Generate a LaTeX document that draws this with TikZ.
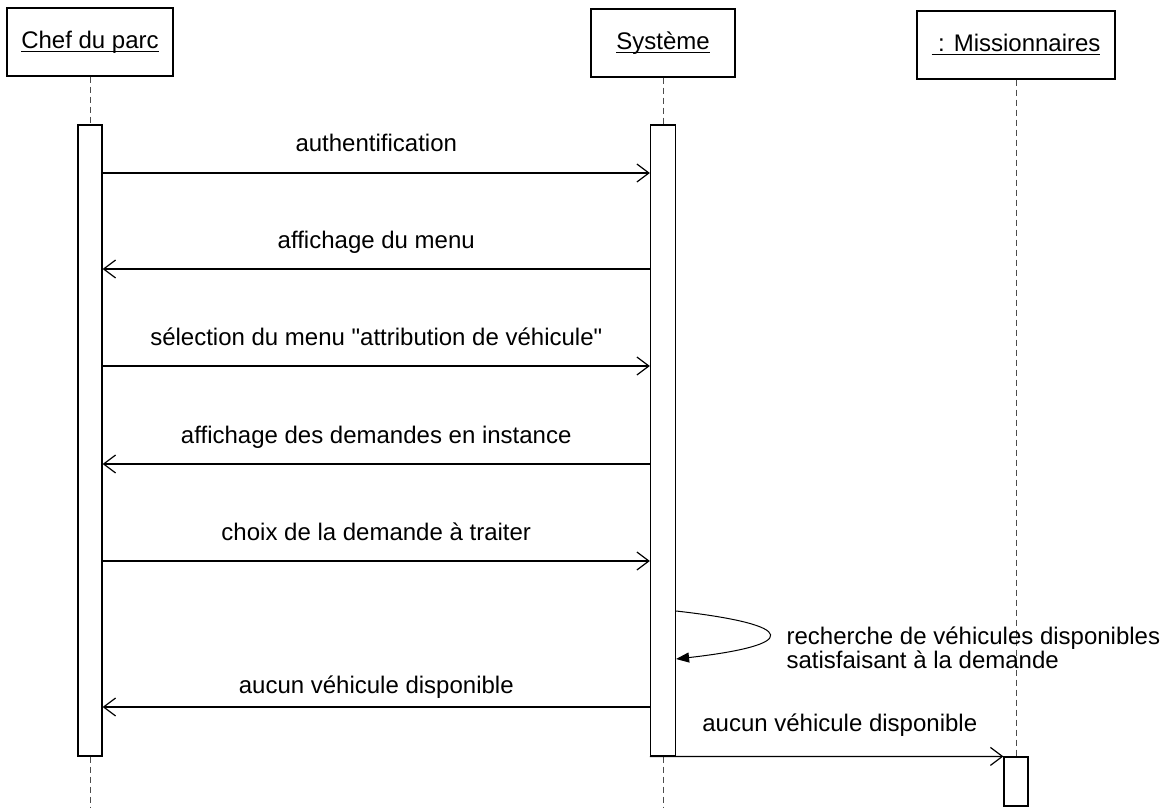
\documentclass[tikz,border=0pt]{standalone}
\usepackage{fontspec}
\setmainfont{Liberation Sans}
\usetikzlibrary{arrows.meta}
\newcommand{\objname}[1]{\setbox0\hbox{#1}\rlap{\rule[-1.8pt]{\wd0}{0.6pt}}\box0}

\begin{document}
\begin{tikzpicture}[x=0.5pt,y=-0.5pt,line width=0.6pt,
	obj/.style={draw,rectangle,minimum height=34pt,inner sep=0pt,font=\fontsize{12}{14}\selectfont},
	act/.style={draw,fill=white,rectangle,minimum width=12pt,inner sep=0pt},
	life/.style={line width=0.5pt,dash pattern=on 3pt off 2pt,black!70},
	msg/.style={-{Straight Barb[length=6pt,width=9pt]}},
	selfmsg/.style={line width=0.5pt,-{Triangle[length=6.5pt,width=5pt]}},
	lbl/.style={anchor=base,inner sep=0pt,font=\fontsize{12}{14}\selectfont}]
\useasboundingbox (0,0) rectangle (1173,808);

\node[obj,minimum width=83pt] (chef) at (90,42) {\objname{Chef du parc}};
\node[obj,minimum width=72pt] (sys) at (663,43) {\objname{Système}};
\node[obj,minimum width=99pt] (miss) at (1016,45) {\objname{ : Missionnaires}};

\node[act,minimum height=315.5pt] (chefA) at (90,440.5) {};
\node[act,minimum height=315.5pt,minimum width=12.5pt] (sysA) at (663,440.5) {};
\node[act,minimum height=24.5pt] (missA) at (1016,781.5) {};

% lifelines
\draw[life] (chef) -- (chefA);
\draw[life] (chefA.south) -- (chefA.south |- 0,808);
\draw[life] (sys) -- (sysA);
\draw[life] (sysA.south) -- (sysA.south |- 0,808);
\draw[life] (miss) -- (missA);

% Chef du parc -> Systeme
\foreach \y/\d/\txt in {173/10.5/authentification,
	366/10.5/sélection du menu \textquotedbl attribution de véhicule\textquotedbl,
	561/10.5/choix de la demande à traiter}
{
	\draw[msg] (chefA.east |- 0,\y) -- (sysA.west |- 0,\y)
		node[lbl,midway,yshift=\d pt] {\txt};
};
% Systeme -> Chef du parc
\foreach \y/\d/\txt in {269/10.5/affichage du menu,
	464/10.5/affichage des demandes en instance,
	707/7/aucun véhicule disponible}
{
	\draw[msg] (sysA.west |- 0,\y) -- (chefA.east |- 0,\y)
		node[lbl,midway,yshift=\d pt] {\txt};
};

% recherche
\draw[selfmsg] (sysA.east |- 0,611) .. controls (800,625) and (800,645) .. (sysA.east |- 0,659);
\node[anchor=west,inner sep=0pt,align=left,font=\fontsize{12}{12}\selectfont] (rech) at (786,648)
	{recherche de véhicules disponibles\\satisfaisant à la demande};

% Systeme -> Missionnaires
\draw[msg] (sysA.south west) -- (missA.north west);
\path (sysA.south east) -- (missA.north west)
	node[lbl,midway,yshift=12.5pt] {aucun véhicule disponible};
\end{tikzpicture}
\end{document}
